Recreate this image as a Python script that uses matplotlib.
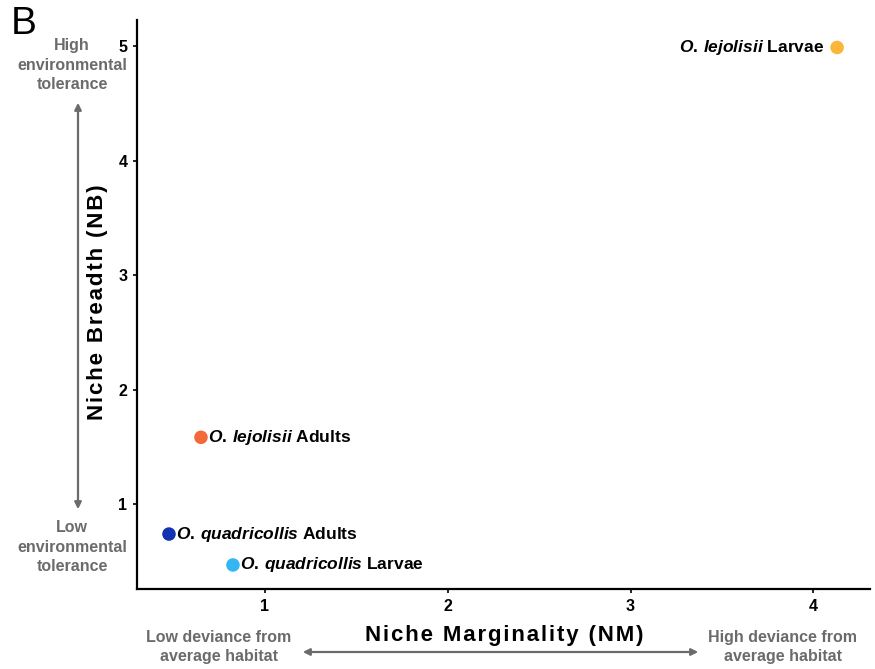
import matplotlib
matplotlib.use('Agg')
import matplotlib.pyplot as plt
from matplotlib.patches import FancyArrowPatch

plt.rcParams['font.family'] = ['Liberation Sans', 'DejaVu Sans']
plt.rcParams['mathtext.fontset'] = 'custom'
plt.rcParams['mathtext.it'] = 'Liberation Sans:italic:bold'
plt.rcParams['mathtext.rm'] = 'Liberation Sans:bold'

# Data
groups = ['O. lejolisii Larvae', 'O. lejolisii Adults',
          'O. quadricollis Adults', 'O. quadricollis Larvae']
species = ['O.\\,lejolisii', 'O.\\,lejolisii', 'O.\\,quadricollis', 'O.\\,quadricollis']
stages = ['Larvae', 'Adults', 'Adults', 'Larvae']
nm = [4.13, 0.65, 0.475, 0.825]
nb = [4.99, 1.585, 0.74, 0.47]
colors = ['#FBB637', '#F4683A', '#1233B0', '#33B6F2']
label_side = ['left', 'right', 'right', 'right']

W, H = 875, 669
fig = plt.figure(figsize=(W / 100, H / 100), dpi=100)
ax = fig.add_axes([137 / W, 1 - 589 / H, (870 - 137) / W, (589 - 20) / H])

ax.scatter(nm, nb, s=95, c=colors, zorder=3, linewidths=0)
for x, y, sp, st, side in zip(nm, nb, species, stages, label_side):
    txt = f'$\\mathit{{{sp}}}$ {st}'
    if side == 'left':
        ax.annotate(txt, (x, y), xytext=(-9, 0), textcoords='offset points',
                    ha='right', va='center', fontsize=12.5, fontweight='bold')
    else:
        ax.annotate(txt, (x, y), xytext=(5, 0), textcoords='offset points',
                    ha='left', va='center', fontsize=12.5, fontweight='bold')

ax.set_xlim(0.30, 4.31)
ax.set_ylim(0.26, 5.23)
ax.set_xticks([1, 2, 3, 4])
ax.set_yticks([1, 2, 3, 4, 5])
for s in ['top', 'right']:
    ax.spines[s].set_visible(False)
for s in ['left', 'bottom']:
    ax.spines[s].set_linewidth(1.6)
ax.tick_params(length=3, width=1.2, labelsize=11.5, pad=4)
for lab in ax.get_xticklabels() + ax.get_yticklabels():
    lab.set_fontweight('bold')

sp = '\u200a'
ax.set_xlabel(sp.join('Niche Marginality (NM)'), fontsize=16, fontweight='bold')
ax.set_ylabel(sp.join('Niche Breadth (NB)'), fontsize=16, fontweight='bold')
ax.xaxis.set_label_coords((504 - 137) / 733, (589 - 625) / 569)
ax.yaxis.set_label_coords((108 - 137) / 733, (589 - 302) / 569)

gray = '#6B6B6B'
def ftext(x, y, lines):
    # one text per line, 19.5 px apart
    y0 = y - 19.5 * (len(lines) - 1) / 2
    for i, s in enumerate(lines):
        fig.text(x / W, 1 - (y0 + 19.5 * i) / H, s, ha='center', va='center',
                 color=gray, fontsize=11.5, fontweight='bold')

ftext(72, 65, ['High', 'environmental', 'tolerance'])
ftext(72, 547, ['Low', 'environmental', 'tolerance'])
ftext(219, 647, ['Low deviance from', 'average habitat'])
ftext(783, 647, ['High deviance from', 'average habitat'])

fig.patches.append(FancyArrowPatch((78 / W, 1 - 512 / H), (78 / W, 1 - 100 / H),
                                   transform=fig.transFigure, arrowstyle='<|-|>',
                                   mutation_scale=10, color=gray, lw=1.6))
fig.patches.append(FancyArrowPatch((300 / W, 1 - 652 / H), (701 / W, 1 - 652 / H),
                                   transform=fig.transFigure, arrowstyle='<|-|>',
                                   mutation_scale=10, color=gray, lw=1.6))

fig.text(11 / W, 1 - 24 / H, 'B', fontsize=28, ha='left', va='center')

plt.savefig('out.png', dpi=100)
plt.close()
